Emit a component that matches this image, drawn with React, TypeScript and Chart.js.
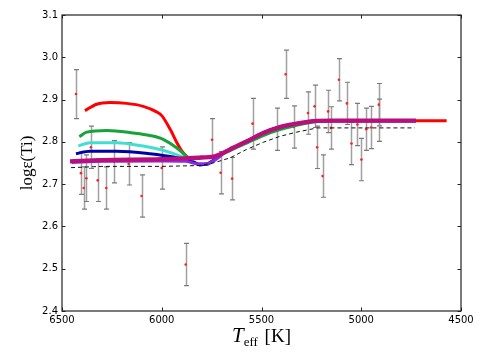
import React, { useEffect, useRef } from "react";
import { Chart, registerables } from "chart.js";

Chart.register(...registerables);

// ---- Data ----
const xTickValues = [6500, 6000, 5500, 5000, 4500];
const yTickValues = [2.4, 2.5, 2.6, 2.7, 2.8, 2.9, 3.0, 3.1];

const obsT = [6430, 6405, 6391, 6378, 6355, 6321, 6278, 6239, 6166, 6101, 6000, 5880, 5748, 5705, 5647, 5545, 5423, 5379, 5339, 5267, 5234, 5221, 5194, 5166, 5152, 5112, 5072, 5049, 5019, 4999, 4975, 4950, 4912, 4912];
const obsV = [2.913, 2.726, 2.691, 2.714, 2.787, 2.709, 2.691, 2.753, 2.748, 2.672, 2.738, 2.51, 2.805, 2.727, 2.713, 2.843, 2.83, 2.96, 2.835, 2.868, 2.884, 2.787, 2.719, 2.872, 2.833, 2.947, 2.891, 2.796, 2.841, 2.758, 2.83, 2.834, 2.888, 2.851];
const obsErr = [0.058, 0.05, 0.05, 0.055, 0.05, 0.05, 0.05, 0.05, 0.05, 0.05, 0.05, 0.05, 0.05, 0.05, 0.05, 0.06, 0.05, 0.057, 0.05, 0.05, 0.05, 0.05, 0.05, 0.05, 0.05, 0.05, 0.05, 0.05, 0.05, 0.05, 0.05, 0.05, 0.05, 0.05];

// common high-temperature dip shared by the non-magenta models
const dipT = [5840, 5810, 5775, 5742, 5710];
const dipV = [2.752, 2.746, 2.747, 2.756, 2.768];

// common cool tail
const tailT = [5692, 5642, 5575, 5491, 5408, 5324, 5241, 5150, 4726];
const tailV = [2.774, 2.786, 2.801, 2.821, 2.835, 2.843, 2.849, 2.85, 2.85];
const greenTailV = [2.772, 2.783, 2.797, 2.815, 2.829, 2.839, 2.847, 2.85, 2.85];

const redT = [6385, 6326, 6260, 6176, 6093, 6026, 6000, 5957, 5924, 5899, 5874];
const redV = [2.874, 2.889, 2.893, 2.891, 2.884, 2.871, 2.862, 2.829, 2.798, 2.778, 2.765];
const redEndT = [4572];
const redEndV = [2.85];

const greenT = [6413, 6376, 6276, 6143, 6059, 5993, 5926, 5876];
const greenV = [2.812, 2.823, 2.827, 2.821, 2.815, 2.806, 2.786, 2.766];

const cyanT = [6418, 6360, 6226, 6093, 6009, 5926, 5876];
const cyanV = [2.79, 2.798, 2.798, 2.79, 2.782, 2.77, 2.76];

const blueT = [6430, 6360, 6226, 6059, 5942, 5859];
const blueV = [2.772, 2.778, 2.778, 2.772, 2.764, 2.754];

const violetT = [6451, 6300, 6000, 5880, 5820, 5775, 5730, 5692];
const violetV = [2.751, 2.754, 2.755, 2.754, 2.748, 2.748, 2.758, 2.772];

const magentaT = [6460, 6300, 6000, 5900, 5800, 5742];
const magentaV = [2.754, 2.757, 2.759, 2.761, 2.763, 2.765];

const dashT = [6455, 6300, 6000, 5809, 5742, 5658, 5575, 5491, 5408, 5324, 5241, 5220, 4731];
const dashV = [2.739, 2.742, 2.742, 2.744, 2.75, 2.762, 2.782, 2.799, 2.813, 2.823, 2.831, 2.833, 2.833];

const pts = (t: number[], v: number[]) => t.map((x, i) => ({ x, y: v[i] }));

const errorBarPlugin = {
  id: "errorBars",
  beforeDatasetsDraw(chart: any) {
    const { ctx } = chart;
    const x = chart.scales.x;
    const y = chart.scales.y;
    ctx.save();
    obsT.forEach((t, i) => {
      const px = Math.round(x.getPixelForValue(t)) + 0.5;
      const top = y.getPixelForValue(obsV[i] + obsErr[i]);
      const bot = y.getPixelForValue(obsV[i] - obsErr[i]);
      ctx.strokeStyle = "rgba(150,150,150,0.9)";
      ctx.lineWidth = 1.5;
      ctx.beginPath();
      ctx.moveTo(px, top);
      ctx.lineTo(px, bot);
      ctx.stroke();
      ctx.strokeStyle = "rgba(110,110,110,0.9)";
      ctx.lineWidth = 1.2;
      ctx.beginPath();
      ctx.moveTo(px - 2.5, top);
      ctx.lineTo(px + 2.5, top);
      ctx.moveTo(px - 2.5, bot);
      ctx.lineTo(px + 2.5, bot);
      ctx.stroke();
    });
    ctx.restore();
  },
};

const framePlugin = {
  id: "frame",
  afterDraw(chart: any) {
    const { ctx, chartArea } = chart;
    const x = chart.scales.x;
    const y = chart.scales.y;
    const { left, right, top, bottom } = chartArea;
    ctx.save();
    ctx.strokeStyle = "#222";
    ctx.lineWidth = 1.2;
    ctx.strokeRect(left, top, right - left, bottom - top);
    ctx.lineWidth = 1;
    ctx.beginPath();
    xTickValues.forEach((v) => {
      const px = Math.round(x.getPixelForValue(v)) + 0.5;
      ctx.moveTo(px, bottom);
      ctx.lineTo(px, bottom - 3.5);
      ctx.moveTo(px, top);
      ctx.lineTo(px, top + 3.5);
    });
    yTickValues.forEach((v) => {
      const py = Math.round(y.getPixelForValue(v)) + 0.5;
      ctx.moveTo(left, py);
      ctx.lineTo(left + 3.5, py);
      ctx.moveTo(right, py);
      ctx.lineTo(right - 3.5, py);
    });
    ctx.stroke();

    // axis titles
    ctx.fillStyle = "#000";
    ctx.textBaseline = "alphabetic";
    const cx = (left + right) / 2;
    const tFont = "italic 21px 'Liberation Serif'";
    const sFont = "13px 'Liberation Serif'";
    const kFont = "19px 'Liberation Serif'";
    ctx.font = tFont;
    const wT = ctx.measureText("T").width;
    ctx.font = sFont;
    const wS = ctx.measureText("eff").width;
    ctx.font = kFont;
    const wK = ctx.measureText(" [K]").width;
    let sx = cx - (wT + wS + 2 + wK) / 2;
    const base = 342;
    ctx.font = tFont;
    ctx.fillText("T", sx, base);
    sx += wT;
    ctx.font = sFont;
    ctx.fillText("eff", sx, base + 4);
    sx += wS + 2;
    ctx.font = kFont;
    ctx.fillText(" [K]", sx, base);

    ctx.translate(28, 163);
    ctx.rotate(-Math.PI / 2);
    ctx.font = "17px 'Liberation Serif'";
    ctx.textAlign = "center";
    ctx.textBaseline = "middle";
    ctx.fillText("logε(Ti)", 0, 0);
    ctx.restore();
  },
};

export default function App() {
  const ref = useRef<HTMLCanvasElement | null>(null);
  useEffect(() => {
    if (!ref.current) return;
    const line = (label: string, data: any[], color: string, width: number, order: number, extra: any = {}) => ({
      type: "line",
      label,
      data,
      order,
      borderColor: color,
      backgroundColor: color,
      borderWidth: width,
      pointRadius: 0,
      showLine: true,
      fill: false,
      cubicInterpolationMode: "monotone",
      ...extra,
    });
    const chart = new Chart(ref.current, {
      type: "scatter",
      data: {
        datasets: [
          line("dashed", pts(dashT, dashV), "#111", 1, 0, { borderDash: [4, 3], cubicInterpolationMode: "default", tension: 0 }),
          line("magenta", pts([...magentaT, ...tailT], [...magentaV, ...tailV]), "#b80f7c", 4.3, 1),
          line("violet", pts(violetT, violetV), "#8a2be2", 3, 2),
          line("blue", pts([...blueT, ...dipT, ...tailT], [...blueV, ...dipV, ...tailV]), "#0000a8", 3, 3),
          line("cyan", pts([...cyanT, ...dipT, ...tailT], [...cyanV, ...dipV, ...tailV]), "#40e0d0", 3, 4),
          line("green", pts([...greenT, ...dipT, ...tailT], [...greenV, ...dipV, ...greenTailV]), "#18a23a", 3, 5),
          line("red", pts([...redT, ...dipT, ...tailT, ...redEndT], [...redV, ...dipV, ...tailV, ...redEndV]), "#ff0000", 3, 6),
          {
            type: "scatter",
            label: "obs",
            order: 10,
            data: pts(obsT, obsV),
            backgroundColor: "#ff2020",
            borderColor: "#ff2020",
            borderWidth: 0,
            pointRadius: 1.3,
          } as any,
        ] as any,
      },
      options: {
        responsive: false,
        animation: false,
        devicePixelRatio: 1,
        layout: { padding: { top: 15, right: 19, left: 0, bottom: 0 } },
        plugins: { legend: { display: false }, tooltip: { enabled: false } },
        scales: {
          x: {
            type: "linear",
            reverse: true,
            min: 4500,
            max: 6500,
            afterFit: (s: any) => {
              s.height = 49;
            },
            afterBuildTicks: (s: any) => {
              s.ticks = xTickValues.map((v) => ({ value: v }));
            },
            ticks: {
              color: "#000",
              font: { family: "'DejaVu Sans'", size: 10 },
              padding: 3,
              maxRotation: 0,
              callback: (v: any) => String(v),
            },
            grid: { display: false, drawTicks: false },
            border: { display: false },
          },
          y: {
            type: "linear",
            min: 2.4,
            max: 3.1,
            afterFit: (s: any) => {
              s.width = 62;
            },
            afterBuildTicks: (s: any) => {
              s.ticks = yTickValues.map((v) => ({ value: v }));
            },
            ticks: {
              color: "#000",
              font: { family: "'DejaVu Sans'", size: 10 },
              padding: 4,
              callback: (v: any) => Number(v).toFixed(1),
            },
            grid: { display: false, drawTicks: false },
            border: { display: false },
          },
        },
      },
      plugins: [errorBarPlugin, framePlugin],
    } as any);
    return () => chart.destroy();
  }, []);
  return (
    <div style={{ position: "absolute", left: 0, top: 0, width: 480, height: 360, background: "#fff" }}>
      <canvas ref={ref} width={480} height={360} style={{ display: "block", width: 480, height: 360 }} />
    </div>
  );
}
